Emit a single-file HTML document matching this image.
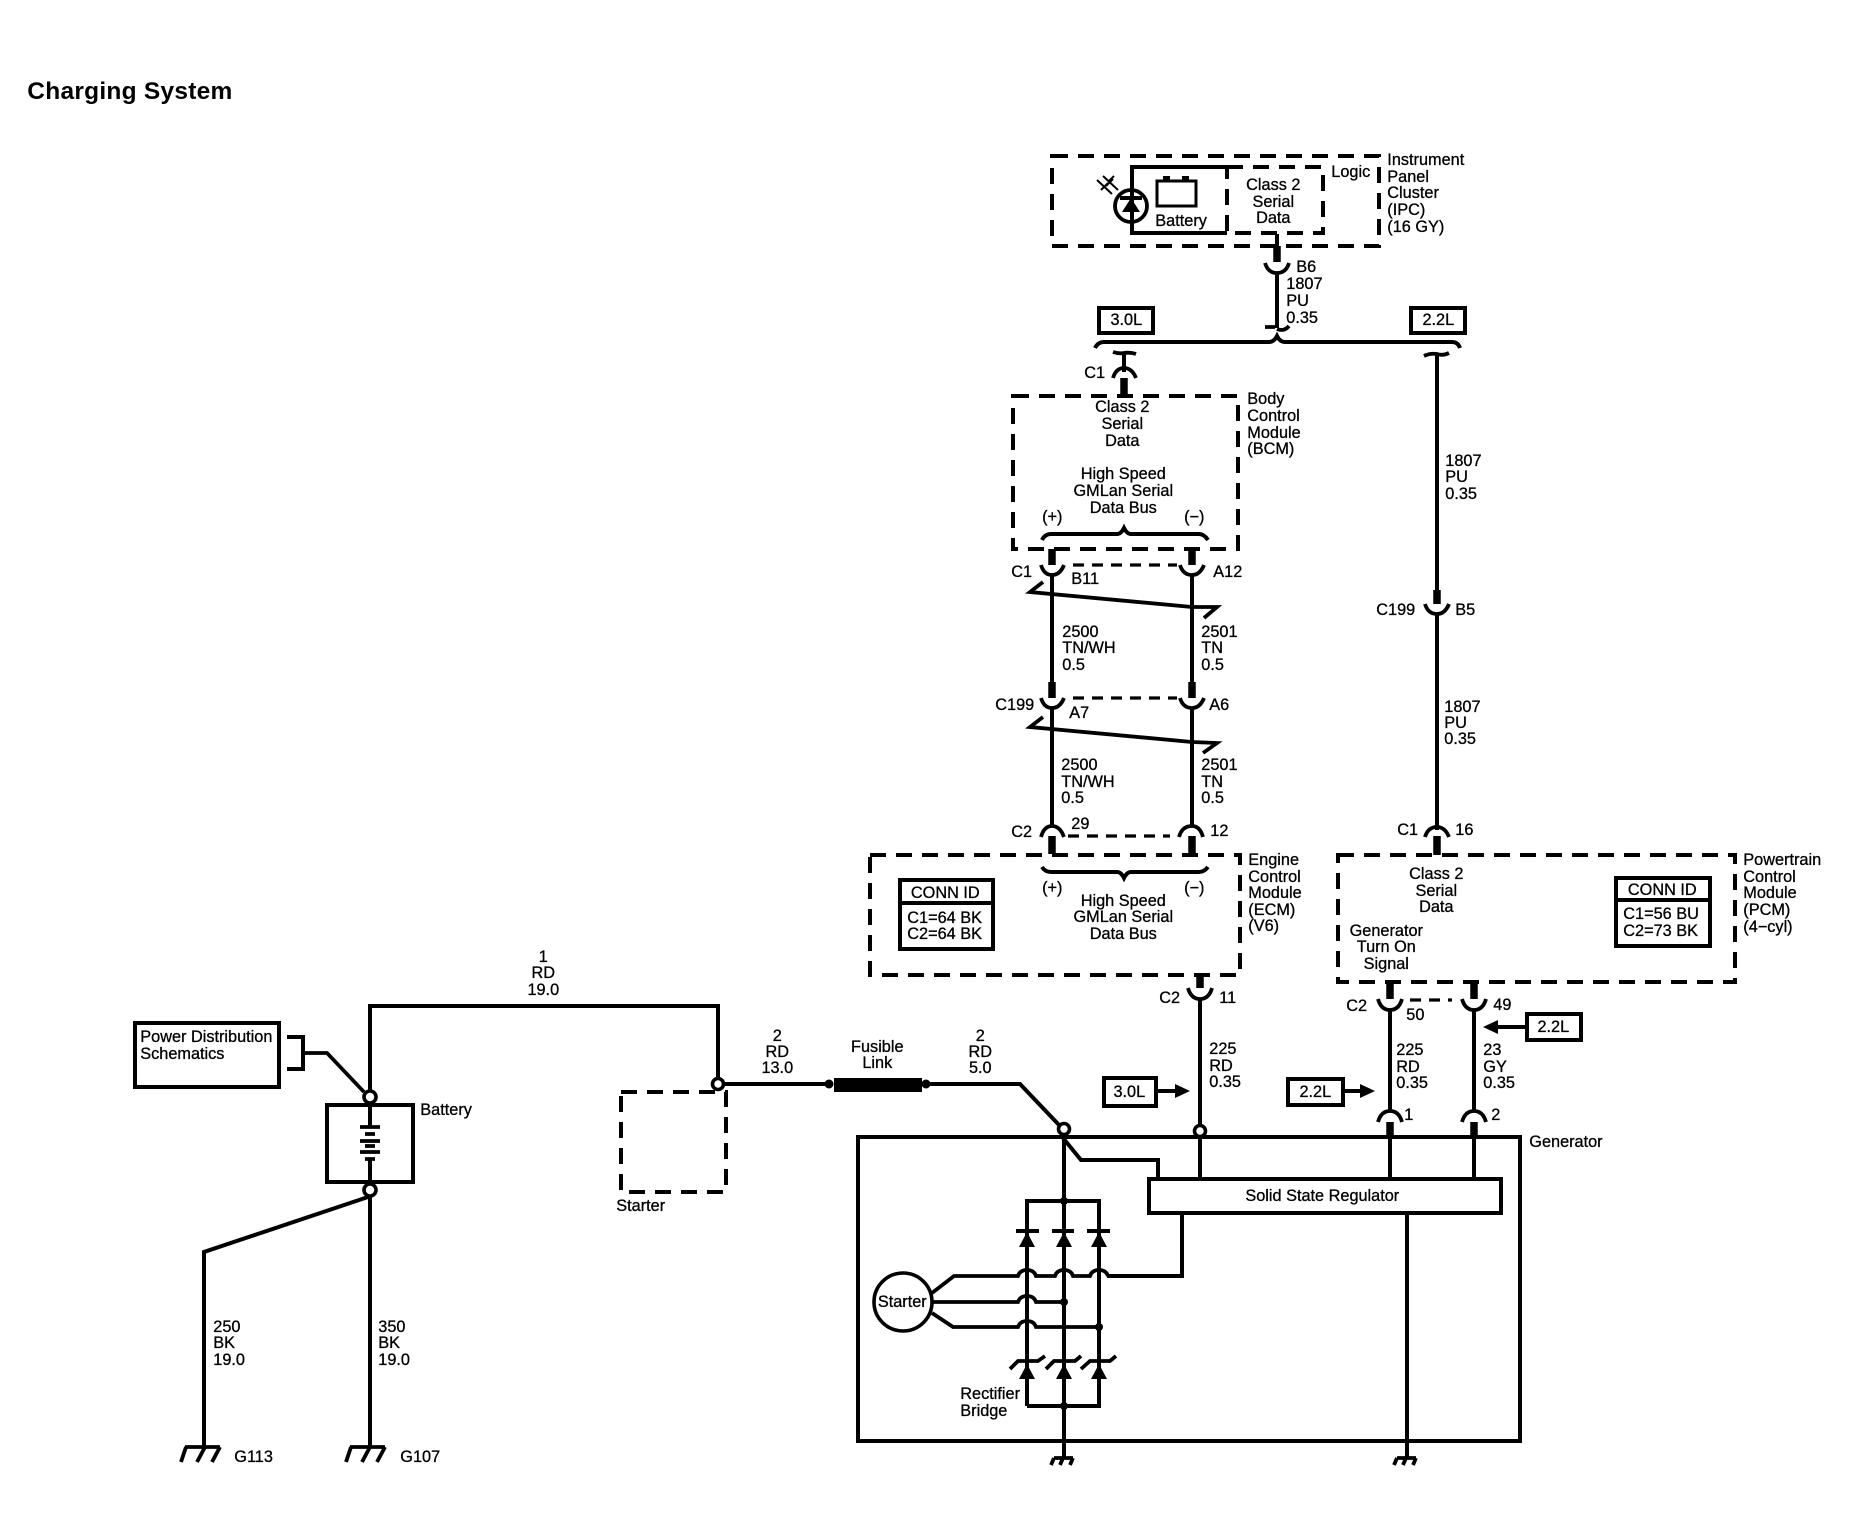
<!DOCTYPE html>
<html>
<head>
<meta charset="utf-8">
<title>Charging System</title>
<style>
html,body{margin:0;padding:0;background:#fff;}
svg{display:block;}
text{font-family:"Liberation Sans",sans-serif;font-size:16.3px;fill:#000;stroke:#000;stroke-width:.3;transform:translate(-.7px,-1px);}
.m{text-anchor:middle;}
.t{font-size:24.5px;font-weight:bold;stroke:none;}
.w{fill:none;stroke:#000;stroke-width:4;}
.k{fill:none;stroke:#000;stroke-width:7.5;}
.c{fill:none;stroke:#000;stroke-width:3.8;}
.d{fill:none;stroke:#000;stroke-width:4;stroke-dasharray:16 10;}
.ds{fill:none;stroke:#000;stroke-width:3.2;stroke-dasharray:11 8;}
.b{fill:#fff;stroke:#000;stroke-width:4;}
.n{fill:#fff;stroke:#000;stroke-width:3.6;}
</style>
</head>
<body>
<svg xmlns="http://www.w3.org/2000/svg" width="1854" height="1536" viewBox="0 0 1854 1536">
<rect width="1854" height="1536" fill="#fff"/>
<text class="t" x="28" y="100" textLength="205">Charging System</text>

<!-- IPC -->
<rect class="d" x="1052" y="156" width="327" height="90"/>
<path class="w" d="M1227 167H1132V233H1227"/>
<rect class="d" x="1227" y="167" width="96" height="66"/>
<circle cx="1131" cy="206" r="16" class="c" fill="none"/>
<path d="M1120 198h22" class="w"/>
<path d="M1131 198l9 14h-18z" fill="#000"/>
<path class="c" style="stroke-width:2" d="M1097 180l15 14M1103 176l15 14M1101 190l7-7M1106 186l7-7M1109 181l5-5"/>
<rect x="1157" y="181" width="39" height="25" fill="none" stroke="#000" stroke-width="3"/>
<rect x="1163" y="176" width="7" height="5" fill="#000"/><rect x="1182" y="176" width="7" height="5" fill="#000"/>
<text x="1156" y="227">Battery</text>
<text class="m"><tspan x="1274" y="191">Class 2</tspan><tspan x="1274" y="208">Serial</tspan><tspan x="1274" y="224">Data</tspan></text>
<text x="1332" y="178">Logic</text>
<text><tspan x="1388" y="166">Instrument</tspan><tspan x="1388" y="183">Panel</tspan><tspan x="1388" y="199">Cluster</tspan><tspan x="1388" y="216">(IPC)</tspan><tspan x="1388" y="233">(16 GY)</tspan></text>

<path class="w" d="M1277 234V250"/>
<path class="k" d="M1277 246V262"/>
<path class="c" d="M1265 263q3 10 12 10q9 0 12-10"/>
<path class="w" d="M1277 272V328"/>
<path class="c" d="M1265 327h10M1277 329q7 3 12-3"/>
<text x="1297" y="273">B6</text>
<text><tspan x="1287" y="290">1807</tspan><tspan x="1287" y="307">PU</tspan><tspan x="1287" y="324">0.35</tspan></text>

<rect class="b" x="1099" y="308" width="54" height="25"/>
<text class="m" x="1127" y="326">3.0L</text>
<rect class="b" x="1411" y="308" width="54" height="25"/>
<text class="m" x="1439" y="326">2.2L</text>
<path class="w" d="M1095 348q3-6 9-6H1269q5 0 8-6q3 6 8 6H1452q6 0 8 6"/>

<!-- C1 to BCM -->
<path class="c" d="M1113 352q6 2 11 1q6-1 12 1"/>
<path class="w" d="M1124 353V372"/>
<path class="c" d="M1113 378q3-10 11-10q8 0 12 10"/>
<path class="k" d="M1124 378V397"/>
<text x="1085" y="379">C1</text>

<!-- BCM -->
<rect class="d" x="1013" y="396" width="225" height="153"/>
<text class="m"><tspan x="1123" y="413">Class 2</tspan><tspan x="1123" y="430">Serial</tspan><tspan x="1123" y="447">Data</tspan></text>
<text class="m"><tspan x="1124" y="480">High Speed</tspan><tspan x="1124" y="497">GMLan Serial</tspan><tspan x="1124" y="514">Data Bus</tspan></text>
<text class="m" x="1053" y="523">(+)</text><text class="m" x="1195" y="523">(−)</text>
<path class="w" d="M1042 540q3-6 9-6H1117q4 0 7-6q3 6 7 6H1199q5 0 9 6"/>
<text><tspan x="1248" y="405">Body</tspan><tspan x="1248" y="422">Control</tspan><tspan x="1248" y="439">Module</tspan><tspan x="1248" y="455">(BCM)</tspan></text>

<!-- twisted pair upper -->
<path class="k" d="M1052 549V565M1192 549V565"/>
<path class="c" d="M1041 565q3 10 11 10q8 0 12-10M1180 565q3 10 12 10q8 0 12-10"/>
<path class="ds" d="M1073 565H1177"/>
<path class="w" d="M1052 574V682M1192 574V682"/>
<path class="c" d="M1043 582L1030 592L1192 607L1217 607L1204 618"/>
<text x="1012" y="578">C1</text><text x="1072" y="585">B11</text><text x="1214" y="578">A12</text>
<text><tspan x="1063" y="638">2500</tspan><tspan x="1063" y="654">TN/WH</tspan><tspan x="1063" y="671">0.5</tspan></text>
<text><tspan x="1202" y="638">2501</tspan><tspan x="1202" y="654">TN</tspan><tspan x="1202" y="671">0.5</tspan></text>

<!-- C199 -->
<path class="k" d="M1052 682V698M1192 682V698"/>
<path class="c" d="M1041 698q3 10 11 10q8 0 12-10M1180 698q3 10 12 10q8 0 12-10"/>
<path class="ds" d="M1073 698H1177"/>
<path class="w" d="M1052 707V825M1192 707V825"/>
<path class="c" d="M1043 717L1030 727L1192 742L1217 743L1203 753"/>
<text x="996" y="711">C199</text><text x="1070" y="719">A7</text><text x="1210" y="711">A6</text>
<text><tspan x="1062" y="771">2500</tspan><tspan x="1062" y="788">TN/WH</tspan><tspan x="1062" y="804">0.5</tspan></text>
<text><tspan x="1202" y="771">2501</tspan><tspan x="1202" y="788">TN</tspan><tspan x="1202" y="804">0.5</tspan></text>

<!-- C2 ECM -->
<path class="c" d="M1041 837q3-11 11-11q8 0 12 11M1179 837q3-11 13-11q8 0 11 11"/>
<path class="k" d="M1052 836V854M1192 836V854"/>
<path class="ds" d="M1068 836H1170"/>
<text x="1012" y="838">C2</text><text x="1072" y="830">29</text><text x="1211" y="837">12</text>

<!-- ECM -->
<rect class="d" x="870" y="855" width="370" height="120"/>
<path class="w" d="M1042 867q3 5 9 5H1117q4 0 7 6q3-6 7-6H1199q5 0 9-5"/>
<text class="m" x="1053" y="894">(+)</text><text class="m" x="1195" y="894">(−)</text>
<text class="m"><tspan x="1124" y="907">High Speed</tspan><tspan x="1124" y="923">GMLan Serial</tspan><tspan x="1124" y="940">Data Bus</tspan></text>
<rect class="b" x="900" y="880" width="93" height="69"/>
<path class="w" d="M900 903H993"/>
<text class="m" x="946" y="899">CONN ID</text>
<text><tspan x="908" y="924">C1=64 BK</tspan><tspan x="908" y="940">C2=64 BK</tspan></text>
<text><tspan x="1249" y="866">Engine</tspan><tspan x="1249" y="883">Control</tspan><tspan x="1249" y="899">Module</tspan><tspan x="1249" y="916">(ECM)</tspan><tspan x="1249" y="932">(V6)</tspan></text>

<!-- Right vertical -->
<path class="c" d="M1424 356q6-3 13-2q6 2 12-1"/>
<path class="w" d="M1437 354V592"/>
<path class="k" d="M1437 590V604"/>
<path class="c" d="M1425 604q3 10 12 10q8 0 12-10"/>
<path class="w" d="M1437 613V830"/>
<path class="c" d="M1425 837q3-10 12-10q8 0 12 10"/>
<path class="k" d="M1437 836V855"/>
<text><tspan x="1446" y="467">1807</tspan><tspan x="1446" y="483">PU</tspan><tspan x="1446" y="500">0.35</tspan></text>
<text x="1377" y="616">C199</text><text x="1456" y="616">B5</text>
<text><tspan x="1445" y="713">1807</tspan><tspan x="1445" y="729">PU</tspan><tspan x="1445" y="745">0.35</tspan></text>
<text x="1398" y="836">C1</text><text x="1456" y="836">16</text>

<!-- PCM -->
<rect class="d" x="1338" y="855" width="397" height="127"/>
<text class="m"><tspan x="1437" y="880">Class 2</tspan><tspan x="1437" y="897">Serial</tspan><tspan x="1437" y="913">Data</tspan></text>
<text class="m"><tspan x="1387" y="937">Generator</tspan><tspan x="1387" y="953">Turn On</tspan><tspan x="1387" y="970">Signal</tspan></text>
<rect class="b" x="1616" y="878" width="94" height="68"/>
<path class="w" d="M1616 900H1710"/>
<text class="m" x="1663" y="896">CONN ID</text>
<text><tspan x="1624" y="920">C1=56 BU</tspan><tspan x="1624" y="937">C2=73 BK</tspan></text>
<text><tspan x="1744" y="866">Powertrain</tspan><tspan x="1744" y="883">Control</tspan><tspan x="1744" y="899">Module</tspan><tspan x="1744" y="916">(PCM)</tspan><tspan x="1744" y="933">(4−cyl)</tspan></text>

<!-- PCM lower connectors -->
<path class="k" d="M1390 982V999M1474 982V999"/>
<path class="c" d="M1378 999q3 11 12 11q9 0 12-11M1462 999q3 11 12 11q9 0 12-11"/>
<path class="ds" d="M1410 1000H1452"/>
<path class="w" d="M1390 1009V1112M1474 1009V1112"/>
<text x="1347" y="1012">C2</text><text x="1407" y="1021">50</text><text x="1494" y="1011">49</text>
<rect class="b" x="1527" y="1014" width="54" height="26"/>
<text class="m" x="1554" y="1033">2.2L</text>
<path class="w" d="M1527 1027H1495"/><path d="M1483 1027l15-7v14z" fill="#000"/>
<text><tspan x="1397" y="1056">225</tspan><tspan x="1397" y="1073">RD</tspan><tspan x="1397" y="1089">0.35</tspan></text>
<text><tspan x="1484" y="1056">23</tspan><tspan x="1484" y="1073">GY</tspan><tspan x="1484" y="1089">0.35</tspan></text>
<rect class="b" x="1288" y="1079" width="55" height="26"/>
<text class="m" x="1316" y="1098">2.2L</text>
<path class="w" d="M1343 1091H1362"/><path d="M1375 1091l-15-7v14z" fill="#000"/>
<path class="c" d="M1378 1122q3-11 12-11q9 0 12 11M1462 1122q3-11 12-11q9 0 12 11"/>
<path class="k" d="M1390 1122V1137M1474 1122V1137"/>
<text x="1405" y="1121">1</text><text x="1492" y="1121">2</text>

<!-- ECM down -->
<path class="k" d="M1200 975V988"/>
<path class="c" d="M1188 988q3 11 12 11q9 0 12-11"/>
<path class="w" d="M1200 998V1126"/>
<text x="1160" y="1004">C2</text><text x="1220" y="1004">11</text>
<text><tspan x="1210" y="1055">225</tspan><tspan x="1210" y="1072">RD</tspan><tspan x="1210" y="1088">0.35</tspan></text>
<rect class="b" x="1104" y="1078" width="52" height="28"/>
<text class="m" x="1130" y="1098">3.0L</text>
<path class="w" d="M1156 1091H1176"/><path d="M1190 1091l-15-7v14z" fill="#000"/>

<!-- Generator -->
<rect class="w" x="858" y="1137" width="662" height="304"/>
<text x="1530" y="1148">Generator</text>
<circle class="n" cx="1200" cy="1131" r="5.5"/>
<rect class="b" x="1149" y="1179" width="352" height="34"/>
<text class="m" x="1323" y="1202">Solid State Regulator</text>
<path class="w" d="M1200 1138V1179M1390 1138V1179M1474 1138V1179"/>
<path class="w" d="M1407 1213V1458"/>
<path class="w" d="M1063 1138L1081 1160H1158V1179"/>
<path class="w" d="M1182 1213V1276H1107"/>

<!-- Rectifier -->
<path class="w" d="M1027 1406V1201H1099V1406H1027"/>
<path class="w" d="M1064 1135V1458"/>
<circle cx="1064" cy="1201" r="4" fill="#000"/><circle cx="1064" cy="1406" r="4" fill="#000"/>
<path class="w" d="M1016 1231H1039M1052 1231H1074M1087 1231H1110"/>
<path d="M1027 1232l8 15h-16zM1064 1232l8 15h-16zM1099 1232l8 15h-16zM1027 1364l8 15h-16zM1064 1364l8 15h-16zM1099 1364l8 15h-16z" fill="#000"/>
<!-- Crossing wires -->
<path class="c" fill="none" d="M932 1293L954 1276H1018q2-6 9-6q7 0 9 6H1055q2-6 9-6q7 0 9 6H1090q2-6 9-6q7 0 9 6"/>
<path class="c" d="M932 1302H1018q2-6 9-6q7 0 9 6H1064"/>
<path class="c" d="M932 1313L953 1327H1018q2-6 9-6q7 0 9 6H1099"/>
<circle cx="1064" cy="1302" r="4" fill="#000"/><circle cx="1099" cy="1327" r="4" fill="#000"/>
<circle class="n" cx="903" cy="1302" r="29"/>
<text class="m" x="903" y="1308">Starter</text>
<path class="c" d="M1010 1369L1018 1361H1038L1045 1356M1046 1369L1054 1361H1075L1081 1356M1081 1369L1090 1361H1110L1116 1356"/>
<text><tspan x="961" y="1400">Rectifier</tspan><tspan x="961" y="1417">Bridge</tspan></text>
<path class="c" d="M1054 1458H1073M1054 1458l-3 7M1063 1458l-3 7M1073 1458l-3 7"/>
<path class="c" d="M1397 1458H1416M1397 1458l-3 7M1406 1458l-3 7M1416 1458l-3 7"/>

<!-- Fusible path -->
<path class="w" d="M370 1097V1006H718V1080"/>
<text class="m"><tspan x="544" y="963">1</tspan><tspan x="544" y="979">RD</tspan><tspan x="544" y="996">19.0</tspan></text>
<rect class="d" x="621" y="1092" width="105" height="100"/>
<text x="617" y="1212">Starter</text>
<path class="w" d="M724 1084H830M926 1084H1020L1060 1126"/>
<rect x="834" y="1078" width="88" height="14" fill="#000"/>
<circle cx="829" cy="1084" r="4.5" fill="#000"/><circle cx="926" cy="1084" r="4.5" fill="#000"/>
<circle class="n" cx="718" cy="1084" r="5.5"/>
<circle class="n" cx="1064" cy="1129" r="5.5"/>
<text class="m"><tspan x="778" y="1042">2</tspan><tspan x="778" y="1058">RD</tspan><tspan x="778" y="1074">13.0</tspan></text>
<text class="m"><tspan x="878" y="1053">Fusible</tspan><tspan x="878" y="1069">Link</tspan></text>
<text class="m"><tspan x="981" y="1042">2</tspan><tspan x="981" y="1058">RD</tspan><tspan x="981" y="1074">5.0</tspan></text>

<!-- Battery side -->
<rect class="b" x="135" y="1023" width="144" height="64"/>
<text><tspan x="141" y="1043">Power Distribution</tspan><tspan x="141" y="1060">Schematics</tspan></text>
<path class="w" d="M287 1037H303V1069H287"/>
<path class="c" d="M303 1053H327L364 1092"/>
<rect class="b" x="327" y="1105" width="86" height="77"/>
<path class="w" d="M370 1104V1127M370 1159V1184"/>
<path class="c" d="M360 1127H380M365 1134H375M360 1141H380M365 1146H375M360 1152H380M365 1159H375"/>
<circle class="n" cx="370" cy="1097" r="6"/>
<circle class="n" cx="370" cy="1190" r="6"/>
<text x="421" y="1116">Battery</text>
<path class="w" d="M370 1196V1447M368 1197L204 1252V1447"/>
<text><tspan x="214" y="1333">250</tspan><tspan x="214" y="1349">BK</tspan><tspan x="214" y="1366">19.0</tspan></text>
<text><tspan x="379" y="1333">350</tspan><tspan x="379" y="1349">BK</tspan><tspan x="379" y="1366">19.0</tspan></text>
<path class="c" d="M185 1447H220M186 1447l-5 15M205 1447l-8 15M220 1447l-8 15"/>
<path class="c" d="M350 1447H385M351 1447l-5 15M370 1447l-8 15M385 1447l-8 15"/>
<text x="235" y="1463">G113</text><text x="401" y="1463">G107</text>
</svg>
</body>
</html>
